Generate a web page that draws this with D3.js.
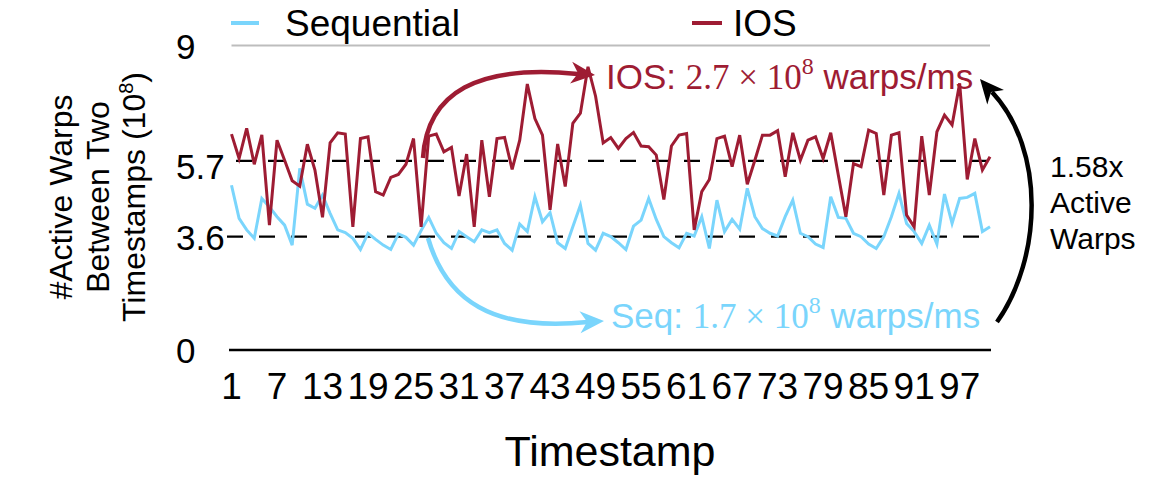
<!DOCTYPE html>
<html>
<head>
<meta charset="utf-8">
<script src="https://cdn.jsdelivr.net/npm/d3@7/dist/d3.min.js"></script>
<style>
  html, body { margin: 0; padding: 0; background: #fff; }
  text { font-family: "Liberation Sans", Arial, Helvetica, sans-serif; }
</style>
</head>
<body>
<svg id="chart" width="1163" height="478"></svg>
<script>
// ---- data ----
const timestamps = d3.range(1, 102);
const iosValues = [6.38, 5.66, 6.55, 5.49, 6.36, 3.69, 6.20, 5.61, 5.00, 4.84,
  6.08, 5.32, 3.92, 6.12, 6.42, 6.38, 3.64, 6.25, 6.30, 4.68,
  4.58, 5.10, 5.19, 5.49, 6.25, 3.64, 6.32, 6.38, 5.86, 5.99,
  4.55, 5.79, 3.64, 6.20, 4.53, 6.25, 6.28, 5.34, 6.20, 7.86,
  6.84, 6.35, 4.14, 6.09, 4.83, 6.70, 7.00, 8.37, 7.50, 6.12,
  6.28, 5.96, 6.25, 6.43, 6.03, 6.01, 5.76, 4.45, 6.03, 6.35,
  6.40, 3.55, 4.68, 5.04, 6.25, 6.32, 5.42, 6.35, 4.90, 5.61,
  6.35, 6.35, 6.48, 5.12, 6.42, 5.61, 6.20, 6.30, 5.66, 6.42,
  5.17, 3.94, 5.51, 5.42, 6.50, 6.40, 4.58, 6.35, 6.42, 3.99,
  3.64, 6.32, 4.58, 6.45, 6.94, 6.65, 7.88, 5.04, 6.25, 5.32, 5.71];
const seqValues = [4.87, 3.89, 3.55, 3.30, 4.48, 4.23, 3.94, 3.69, 3.10, 5.37,
  4.31, 4.19, 4.58, 4.04, 3.55, 3.47, 3.30, 2.97, 3.45, 3.27,
  3.10, 2.97, 3.43, 3.33, 3.10, 3.53, 3.92, 3.45, 3.17, 3.00,
  3.50, 3.35, 3.20, 3.55, 3.47, 3.55, 3.15, 2.95, 3.72, 3.50,
  4.53, 3.79, 4.06, 3.17, 3.00, 3.64, 4.28, 3.15, 2.95, 3.45,
  3.35, 3.17, 2.97, 3.66, 3.84, 4.48, 3.86, 3.35, 3.17, 3.02,
  3.45, 3.37, 3.94, 3.00, 4.43, 3.50, 3.86, 3.57, 4.78, 3.94,
  3.59, 3.45, 3.37, 3.94, 4.43, 3.45, 3.35, 3.13, 3.03, 4.53,
  3.92, 3.89, 3.45, 3.35, 3.13, 3.00, 3.35, 3.94, 4.63, 3.74,
  3.50, 3.15, 3.69, 3.13, 4.61, 3.74, 4.48, 4.51, 4.63, 3.50, 3.64];
const xTickValues = [1, 7, 13, 19, 25, 31, 37, 43, 49, 55, 61, 67, 73, 79, 85, 91, 97];
const yTickValues = [0, 3.35, 5.59, 9];
const yTickLabels = ["0", "3.6", "5.7", "9"];
const refLines = [3.35, 5.59];
const seriesNames = ["Sequential", "IOS"];

const IOS_COLOR = "#9e1c33";
const SEQ_COLOR = "#7ad5fc";

const svg = d3.select("#chart");
const x = d3.scaleLinear().domain([1, 101]).range([231.5, 990]);
const y = d3.scaleLinear().domain([0, 9]).range([350, 45.5]);

// top gridline (9)
svg.append("line")
  .attr("x1", x(1)).attr("x2", x(101))
  .attr("y1", y(9)).attr("y2", y(9))
  .attr("stroke", "#bdbdbd").attr("stroke-width", 2);

// dashed reference lines
svg.selectAll(".ref").data(refLines).enter().append("line")
  .attr("x1", (d, i) => i === 0 ? 227 : 236).attr("x2", 990)
  .attr("y1", d => y(d)).attr("y2", d => y(d))
  .attr("stroke", "#000").attr("stroke-width", 2.2)
  .attr("stroke-dasharray", "16,16");

// x axis line
svg.append("line")
  .attr("x1", 229).attr("x2", 991)
  .attr("y1", y(0)).attr("y2", y(0))
  .attr("stroke", "#000").attr("stroke-width", 2.6);

// y tick labels (left aligned)
svg.selectAll(".ytl").data(yTickValues).enter().append("text")
  .attr("x", 176)
  .attr("y", (d, i) => y(d) + (i === 2 ? 6 : 1))
  .attr("dy", "0.35em")
  .attr("font-size", 35)
  .attr("text-anchor", "start")
  .text((d, i) => yTickLabels[i]);

// x tick labels
svg.selectAll(".xtl").data(xTickValues).enter().append("text")
  .attr("x", d => x(d))
  .attr("y", 399)
  .attr("font-size", 37)
  .attr("text-anchor", "middle")
  .text(d => d);

// x title
svg.append("text").attr("x", 610).attr("y", 466)
  .attr("font-size", 43).attr("text-anchor", "middle").text("Timestamp");

// y title
const yt = [
  {cx: 60, t: "#Active Warps"},
  {cx: 97, t: "Between Two"},
  {cx: 133, t: "Timestamps (10", sup: "8", tail: ")"}
];
yt.forEach(l => {
  const t = svg.append("text")
    .attr("transform", `translate(${l.cx},197) rotate(-90)`)
    .attr("dy", "0.36em")
    .attr("font-size", 32).attr("text-anchor", "middle");
  t.append("tspan").text(l.t);
  if (l.sup) {
    t.append("tspan").attr("font-size", 20).attr("dy", -12).text(l.sup);
    t.append("tspan").attr("dy", 12).text(l.tail);
  }
});

// lines
const line = d3.line().x((d, i) => x(timestamps[i])).y(d => y(d));
svg.append("path").datum(seqValues).attr("d", line)
  .attr("fill", "none").attr("stroke", SEQ_COLOR).attr("stroke-width", 3)
  .attr("stroke-linejoin", "miter");
svg.append("path").datum(iosValues).attr("d", line)
  .attr("fill", "none").attr("stroke", IOS_COLOR).attr("stroke-width", 3)
  .attr("stroke-linejoin", "miter");

// legend
const legend = [
  {name: seriesNames[0], color: SEQ_COLOR, x1: 231, x2: 259, tx: 285},
  {name: seriesNames[1], color: IOS_COLOR, x1: 692, x2: 722, tx: 733}
];
legend.forEach(l => {
  svg.append("line").attr("x1", l.x1).attr("x2", l.x2).attr("y1", 23).attr("y2", 23)
    .attr("stroke", l.color).attr("stroke-width", 4);
  svg.append("text").attr("x", l.tx).attr("y", 36).attr("font-size", 37).text(l.name);
});

// arrowhead helper (stealth)
function arrowHead(tipX, tipY, angle, color) {
  const L = 24, W = 11, notch = 7;
  const pts = [[0, 0], [-L, -W], [-L + notch, 0], [-L, W]];
  const c = Math.cos(angle), s = Math.sin(angle);
  const p = pts.map(([a, b]) => [tipX + a * c - b * s, tipY + a * s + b * c]);
  svg.append("path").attr("d", "M" + p.map(q => q.join(",")).join("L") + "Z")
    .attr("fill", color);
}

// red arrow
svg.append("path")
  .attr("d", "M423,158 C427,92 478,64 578,74")
  .attr("fill", "none").attr("stroke", IOS_COLOR).attr("stroke-width", 4.5);
arrowHead(595, 75, Math.atan2(2, 20), IOS_COLOR);

// blue arrow
svg.append("path")
  .attr("d", "M428,238 C446,300 492,332 588,322")
  .attr("fill", "none").attr("stroke", SEQ_COLOR).attr("stroke-width", 4.5);
arrowHead(604, 321, Math.atan2(-1, 20), SEQ_COLOR);

// black arrow
svg.append("path")
  .attr("d", "M997,322 C1042,258 1046,150 992,92")
  .attr("fill", "none").attr("stroke", "#000").attr("stroke-width", 4.5);
arrowHead(980, 79, Math.atan2(-14, -12), "#000");

// annotation texts
function mathLabel(xp, yp, prefix, num, color) {
  const t = svg.append("text").attr("x", xp).attr("y", yp)
    .attr("font-size", 35).attr("fill", color);
  t.append("tspan").text(prefix);
  t.append("tspan").style("font-family", "'Liberation Serif', 'Times New Roman', serif").text(num + " \u00d7 10");
  t.append("tspan").style("font-family", "'Liberation Serif', 'Times New Roman', serif")
    .attr("font-size", 24).attr("dy", -15).text("8");
  t.append("tspan").attr("dy", 15).text(" warps/ms");
}
mathLabel(606, 89, "IOS: ", "2.7", IOS_COLOR);
mathLabel(611, 328, "Seq: ", "1.7", SEQ_COLOR);

// ratio text
["1.58x", "Active", "Warps"].forEach((s, i) => {
  svg.append("text").attr("x", 1050).attr("y", 177 + i * 36)
    .attr("font-size", 30).text(s);
});
</script>
</body>
</html>
